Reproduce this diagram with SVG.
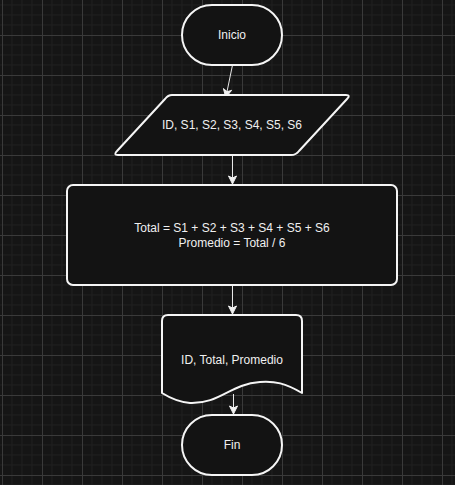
<svg xmlns="http://www.w3.org/2000/svg" width="455" height="485" viewBox="0 0 455 485">
  <defs>
    <pattern id="grid" patternUnits="userSpaceOnUse" x="2" y="35" width="40" height="40">
      <path d="M10,0V40M20,0V40M30,0V40M0,10H40M0,20H40M0,30H40" stroke="#1f1f1f" stroke-width="1" fill="none"/>
      <path d="M0.5,0V40M0,0.5H40" stroke="#3a3a3a" stroke-width="1" fill="none"/>
    </pattern>
    <marker id="arrow" markerUnits="userSpaceOnUse" markerWidth="10" markerHeight="10" refX="9" refY="5" orient="auto">
      <path d="M1,1 L9,5 L1,9 L3,5 Z" fill="#f0f0f0" stroke="#f0f0f0" stroke-width="1" stroke-linejoin="miter"/>
    </marker>
    <style>
      .shape { fill: #131313; stroke: #f5f5f5; stroke-width: 2; stroke-linejoin: round; }
      .label { font-family: "Liberation Sans", Arial, sans-serif; font-size: 12px; fill: #f0f0f0; text-anchor: middle; dominant-baseline: central; }
      .edge { fill: none; stroke: #e8e8e8; stroke-width: 1; marker-end: url(#arrow); }
    </style>
  </defs>
  <rect width="455" height="485" fill="#151515"/>
  <rect width="455" height="485" fill="url(#grid)"/>

  <g id="connectors">
    <path class="edge" d="M232.5,65 L225.8,97.5"/>
    <path class="edge" d="M232.5,155 L232.5,184"/>
    <path class="edge" d="M232.5,285 L232.5,314"/>
    <path class="edge" d="M233.5,394 L233.5,414"/>
  </g>

  <g id="inicio">
    <rect class="shape" x="182" y="5" width="100" height="60" rx="30" ry="30"/>
    <text class="label" x="232" y="35">Inicio</text>
  </g>

  <g id="entrada">
    <path class="shape" d="M172,95 H346 Q351,95 347,99 L299,151 Q296,155 291,155 H118 Q113,155 117,151 L165,99 Q168,95 172,95 Z"/>
    <text class="label" x="232" y="125">ID, S1, S2, S3, S4, S5, S6</text>
  </g>

  <g id="proceso">
    <rect class="shape" x="67" y="185" width="330" height="100" rx="6" ry="6"/>
    <text class="label" x="232" y="228">Total = S1  + S2 + S3 + S4 + S5 + S6</text>
    <text class="label" x="232" y="243">Promedio = Total / 6</text>
  </g>

  <g id="salida">
    <path class="shape" d="M162,321 Q162,315 168,315 H296 Q302,315 302,321 V393 C285,383 275,381 260,382 C230,384 220,404 190,403 C178,402 170,398 162,393 Z"/>
    <text class="label" x="232" y="360">ID, Total, Promedio</text>
  </g>

  <g id="fin">
    <rect class="shape" x="182" y="415" width="100" height="60" rx="30" ry="30"/>
    <text class="label" x="232" y="445">Fin</text>
  </g>
</svg>
